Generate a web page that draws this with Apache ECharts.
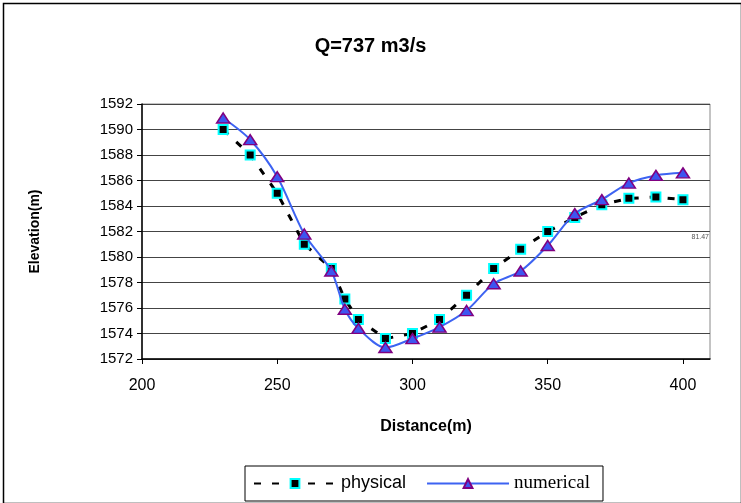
<!DOCTYPE html>
<html>
<head>
<meta charset="utf-8">
<script src="https://cdn.jsdelivr.net/npm/echarts@6/dist/echarts.min.js"></script>
<style>
  html, body { margin: 0; padding: 0; background: #fff; }
  #chart { width: 741px; height: 503px; }
</style>
</head>
<body>
<div id="chart"></div>
<script>
// distances (m) of the cross-section points
var distance = [230, 240, 250, 260, 270, 275, 280, 290, 300, 310, 320, 330, 340, 350, 360, 370, 380, 390, 400];
// measured elevation, physical model
var physical = [1590.0, 1588.0, 1585.0, 1581.0, 1579.1, 1576.7, 1575.1, 1573.6, 1574.0, 1575.1, 1577.0, 1579.1, 1580.6, 1582.0, 1583.1, 1584.1, 1584.6, 1584.7, 1584.5];
// computed elevation, numerical model
var numerical = [1590.9, 1589.2, 1586.3, 1581.8, 1578.9, 1575.9, 1574.4, 1572.9, 1573.6, 1574.5, 1575.8, 1577.9, 1578.9, 1580.9, 1583.4, 1584.5, 1585.8, 1586.4, 1586.6];
var xTicks = [200, 250, 300, 350, 400];
var yTicks = [1572, 1574, 1576, 1578, 1580, 1582, 1584, 1586, 1588, 1590, 1592];

var SANS = 'Liberation Sans, Arial, sans-serif';
var SERIF = 'Liberation Serif, Times New Roman, serif';

function pairs(xs, ys) {
  var out = [];
  for (var i = 0; i < xs.length; i++) out.push([xs[i], ys[i]]);
  return out;
}

var chart = echarts.init(document.getElementById('chart'));
var option = {
  animation: false,
  backgroundColor: '#fff',
  title: {
    text: 'Q=737 m3/s',
    left: 'center',
    top: 31,
    textStyle: { fontFamily: SANS, fontWeight: 'bold', fontSize: 20, color: '#000' }
  },
  grid: {
    left: 142, right: 31, top: 104, bottom: 144,
    show: true, borderColor: '#888', borderWidth: 1
  },
  legend: {
    left: 245, top: 466,
    padding: [8, 13, 8, 8],
    borderColor: '#000', borderWidth: 1,
    itemWidth: 82, itemHeight: 11, itemGap: 20,
    textStyle: { fontFamily: SANS, fontSize: 18, color: '#000' },
    data: [
      { name: 'physical', textStyle: { fontFamily: SANS, fontSize: 18, color: '#000' } },
      { name: 'numerical', textStyle: { fontFamily: SERIF, fontSize: 19, color: '#000' } }
    ]
  },
  xAxis: {
    type: 'value',
    min: 200, max: 410, interval: 50,
    name: 'Distance(m)',
    nameLocation: 'middle',
    nameGap: 60,
    nameTextStyle: { fontFamily: SANS, fontWeight: 'bold', fontSize: 16, color: '#000' },
    axisLine: { show: true, lineStyle: { color: '#000', width: 1.5 } },
    axisTick: { show: true, length: 5, lineStyle: { color: '#000' } },
    axisLabel: {
      margin: 19, fontFamily: SANS, fontSize: 16, color: '#000', showMaxLabel: false,
      formatter: function (v) { return xTicks.indexOf(v) >= 0 ? String(v) : ''; }
    },
    splitLine: { show: false }
  },
  yAxis: {
    type: 'value',
    min: 1572, max: 1592, interval: 2,
    name: 'Elevation(m)',
    nameLocation: 'middle',
    nameGap: 100,
    nameTextStyle: { fontFamily: SANS, fontWeight: 'bold', fontSize: 14, color: '#000' },
    axisLine: { show: true, lineStyle: { color: '#000', width: 1.5 } },
    axisTick: { show: true, length: 5, lineStyle: { color: '#000' } },
    axisLabel: {
      margin: 9, fontFamily: SANS, fontSize: 15, color: '#000',
      formatter: function (v) { return yTicks.indexOf(v) >= 0 ? String(v) : ''; }
    },
    splitLine: { show: true, lineStyle: { color: '#444', width: 1 } }
  },
  series: [
    {
      name: 'physical',
      type: 'line',
      data: pairs(distance, physical),
      lineStyle: { color: '#000', width: 3, type: [7, 11] },
      symbol: 'rect',
      symbolSize: 9,
      itemStyle: { color: '#000', borderColor: '#00ffff', borderWidth: 2 },
      z: 2
    },
    {
      name: 'numerical',
      type: 'line',
      smooth: 0.3,
      data: pairs(distance, numerical),
      lineStyle: { color: '#3d63f2', width: 2 },
      symbol: 'triangle',
      symbolSize: [13, 10],
      itemStyle: { color: '#3d55f0', borderColor: '#800080', borderWidth: 1.5 },
      z: 3
    }
  ],
  graphic: [
    {
      type: 'rect',
      left: 1, top: 1,
      shape: { width: 738, height: 500 },
      style: { fill: null, stroke: '#000', lineWidth: 1.5 },
      silent: true
    },
    {
      type: 'text',
      right: 32, top: 234,
      style: { text: '81.47', fontFamily: SANS, fontSize: 7, fill: '#555' },
      silent: true
    }
  ]
};
chart.setOption(option);
</script>
</body>
</html>
